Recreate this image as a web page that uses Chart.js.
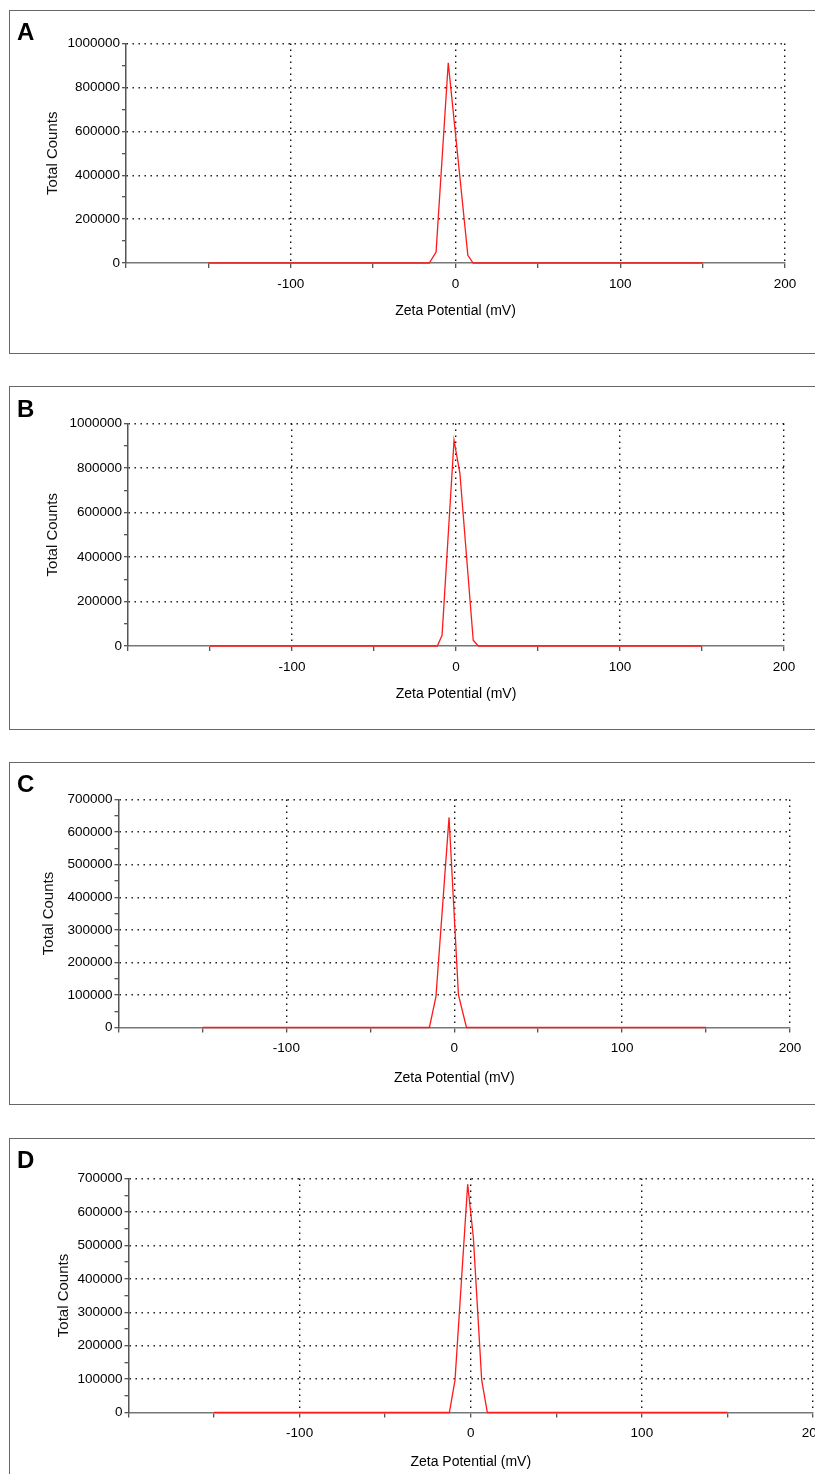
<!DOCTYPE html>
<html>
<head>
<meta charset="utf-8">
<script src="https://cdn.jsdelivr.net/npm/chart.js@4/dist/chart.umd.min.js"></script>
<style>
  html, body { margin: 0; padding: 0; background: #fff; }
  #page { position: relative; width: 815px; height: 1474px; overflow: hidden; }
  .box { position: absolute; left: 9px; width: 840px; border: 1px solid #666; box-sizing: border-box; }
  .tag { position: absolute; left: 17px; font: bold 24px/24px "Liberation Sans", Arial, sans-serif; color: #000; }
  canvas { position: absolute; left: 0; }
</style>
</head>
<body>
<div id="page">
  <div class="box" style="top:10px;height:344px"></div>
  <div class="box" style="top:386px;height:344px"></div>
  <div class="box" style="top:762px;height:343px"></div>
  <div class="box" style="top:1138px;height:400px"></div>
  <canvas id="chartA" width="815" height="343" style="top:10px"></canvas>
  <canvas id="chartB" width="815" height="343" style="top:386px"></canvas>
  <canvas id="chartC" width="815" height="342" style="top:762px"></canvas>
  <canvas id="chartD" width="815" height="336" style="top:1138px"></canvas>
  <div class="tag" style="top:20px">A</div>
  <div class="tag" style="top:397px">B</div>
  <div class="tag" style="top:772px">C</div>
  <div class="tag" style="top:1148px">D</div>
</div>
<script>
// zeta potential (mV) / total counts
const zetaA = [-150, -15.9, -11.8, -4.4, 7.5, 10.7, 150];
const countsA = [0, 0, 50000, 912000, 35000, 0, 0];

const zetaB = [-150, -11.4, -8.5, -1.2, 2.4, 10.5, 13.6, 150];
const countsB = [0, 0, 48000, 925000, 775000, 26000, 0, 0];

const zetaC = [-150, -14.8, -10.9, -3.1, 2.5, 7.3, 150];
const countsC = [0, 0, 95000, 645000, 100000, 0, 0];

const zetaD = [-150, -12.5, -9.2, -1.8, 1.5, 6.4, 9.7, 150];
const countsD = [0, 0, 97000, 683000, 525000, 97000, 0, 0];

const xTickValues = [-200, -150, -100, -50, 0, 50, 100, 150, 200];
const xTickLabels = [-100, 0, 100, 200];

const yTicksBig = [0, 100000, 200000, 300000, 400000, 500000, 600000, 700000, 800000, 900000, 1000000];
const yLabelsBig = [0, 200000, 400000, 600000, 800000, 1000000];
const yTicksSmall = [0, 50000, 100000, 150000, 200000, 250000, 300000, 350000, 400000, 450000, 500000, 550000, 600000, 650000, 700000];
const yLabelsSmall = [0, 100000, 200000, 300000, 400000, 500000, 600000, 700000];

const tickFont = { family: "'Liberation Sans', Arial, sans-serif", size: 13.5 };
const yTitleFont = { family: "'Liberation Sans', Arial, sans-serif", size: 15 };
const xTitleFont = { family: "'Liberation Sans', Arial, sans-serif", size: 14 };

const panels = [
  { id: "chartA", top: 10, height: 343, left: 126, right: 785, plotTop: 43.5, plotBottom: 263, yTitleX: 53, xTitleY: 311,
    zeta: zetaA, counts: countsA, yMax: 1000000, yTicks: yTicksBig, yLabels: yLabelsBig },
  { id: "chartB", top: 386, height: 343, left: 128, right: 784, plotTop: 423.5, plotBottom: 646, yTitleX: 53, xTitleY: 694,
    zeta: zetaB, counts: countsB, yMax: 1000000, yTicks: yTicksBig, yLabels: yLabelsBig },
  { id: "chartC", top: 762, height: 342, left: 118.5, right: 790, plotTop: 799.5, plotBottom: 1027.5, yTitleX: 49, xTitleY: 1078,
    zeta: zetaC, counts: countsC, yMax: 700000, yTicks: yTicksSmall, yLabels: yLabelsSmall },
  { id: "chartD", top: 1138, height: 336, left: 128.5, right: 813, plotTop: 1178.5, plotBottom: 1412.5, yTitleX: 64, xTitleY: 1462,
    zeta: zetaD, counts: countsD, yMax: 700000, yTicks: yTicksSmall, yLabels: yLabelsSmall }
];

function makeChart(p) {
  const ctx = document.getElementById(p.id).getContext("2d");
  const plotBottomRel = p.plotBottom - p.top;

  return new Chart(ctx, {
    type: "line",
    data: {
      datasets: [{
        data: p.zeta.map((z, i) => ({ x: z, y: p.counts[i] })),
        borderColor: "#ff1a1a",
        borderWidth: 1.3,
        pointRadius: 0,
        tension: 0,
        fill: false,
        clip: false
      }]
    },
    options: {
      responsive: false,
      devicePixelRatio: 1,
      animation: false,
      layout: { padding: { left: 0, right: 815 - p.right, top: p.plotTop - p.top, bottom: 0 } },
      plugins: { legend: { display: false }, tooltip: { enabled: false } },
      scales: {
        x: {
          type: "linear",
          min: -200,
          max: 200,
          afterBuildTicks(s) { s.ticks = xTickValues.map((v) => ({ value: v })); },
          afterFit(s) { s.height = p.height - plotBottomRel; s.paddingLeft = 0; s.paddingRight = 0; },
          ticks: {
            autoSkip: false,
            maxRotation: 0,
            padding: 8,
            color: "#000",
            font: tickFont,
            callback(v) { return xTickLabels.includes(v) ? String(v) : ""; }
          },
          grid: {
            color(c) {
              const v = c.tick ? c.tick.value : null;
              return v !== null && v % 100 === 0 && v !== -200 ? "#111" : "rgba(0,0,0,0)";
            },
            lineWidth: 1.4,
            tickColor: "#444",
            tickLength: 5,
            tickWidth: 1.2
          },
          border: { color: "#777", width: 1.5, dash: [1.4, 4.6] },
          title: {
            display: true,
            text: "Zeta Potential (mV)",
            color: "#000",
            font: xTitleFont,
            padding: { top: 0, bottom: p.height - (p.xTitleY - p.top) - xTitleFont.size * 0.6 }
          }
        },
        y: {
          min: 0,
          max: p.yMax,
          afterBuildTicks(s) { s.ticks = p.yTicks.map((v) => ({ value: v })); },
          afterFit(s) { s.width = p.left; s.paddingTop = 0; s.paddingBottom = 0; },
          ticks: {
            autoSkip: false,
            padding: 2,
            color: "#000",
            font: tickFont,
            callback(v) { return p.yLabels.includes(v) ? String(v) : ""; }
          },
          grid: {
            color(c) {
              const v = c.tick ? c.tick.value : null;
              return v && p.yLabels.includes(v) ? "#111" : "rgba(0,0,0,0)";
            },
            lineWidth: 1.4,
            tickColor: "#444",
            tickLength: 4,
            tickWidth: 1.2
          },
          border: { color: "#555", width: 1.5, dash: [1.4, 4.6] },
          title: {
            display: true,
            text: "Total Counts",
            color: "#111",
            font: yTitleFont,
            padding: { top: p.yTitleX - yTitleFont.size * 0.6, bottom: 0 }
          }
        }
      }
    }
  });
}

panels.forEach(makeChart);
</script>
</body>
</html>
